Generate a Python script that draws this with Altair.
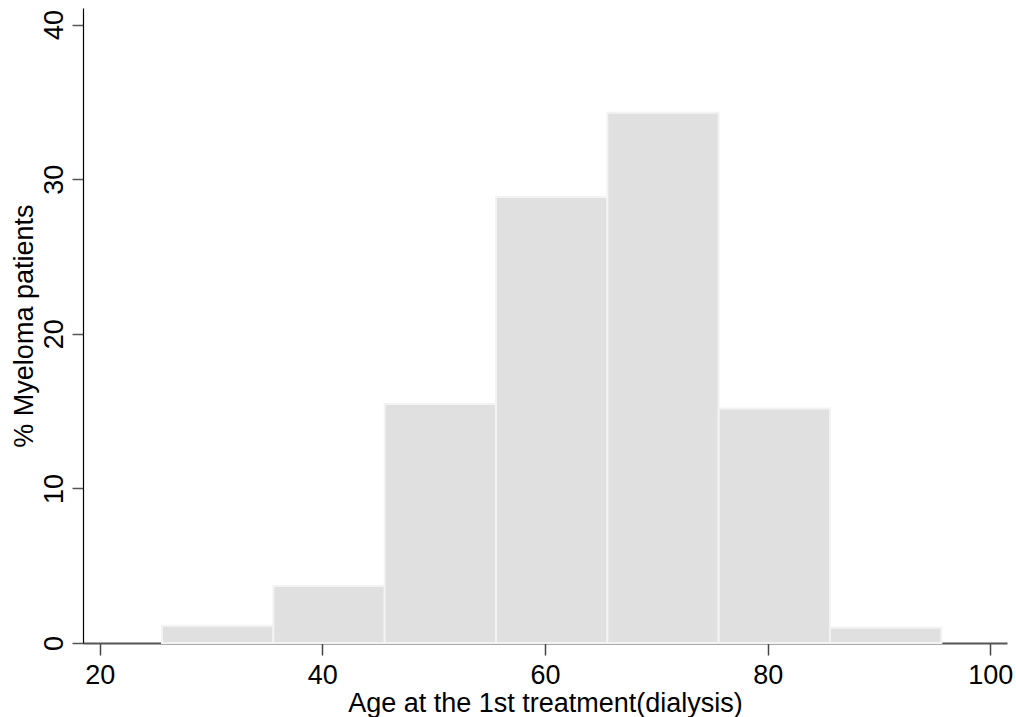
import altair as alt
import pandas as pd

# Histogram bins (age, years) and percentage of patients in each bin
bin_left = [25.6, 35.6, 45.6, 55.6, 65.6, 75.6, 85.6]
bin_right = [35.6, 45.6, 55.6, 65.6, 75.6, 85.6, 95.6]
percent = [1.12, 3.68, 15.45, 28.85, 34.3, 15.17, 0.99]

x_ticks = [20, 40, 60, 80, 100]
y_ticks = [0, 10, 20, 30, 40]

df = pd.DataFrame({"left": bin_left, "right": bin_right, "pct": percent})

FONT = "Liberation Sans"

chart = alt.Chart(df).mark_rect(
    fill="#e0e0e0", stroke="#f3f3f3", strokeWidth=2
).encode(
    x=alt.X(
        "left:Q",
        scale=alt.Scale(domain=[18.5, 101.5], nice=False, zero=False),
        axis=alt.Axis(
            values=x_ticks,
            title="Age at the 1st treatment(dialysis)",
            grid=False,
            domainColor="#555555",
            domainWidth=2,
            tickColor="#444444",
            tickWidth=1.5,
            tickSize=12,
            labelFont=FONT,
            labelFontSize=27,
            labelColor="#000000",
            labelPadding=7,
            titleFont=FONT,
            titleFontSize=27,
            titleFontWeight="normal",
            titleColor="#000000",
            titlePadding=2,
        ),
    ),
    x2="right",
    y=alt.Y(
        "pct:Q",
        scale=alt.Scale(domain=[0, 41.07], nice=False),
        axis=alt.Axis(
            values=y_ticks,
            title="% Myeloma patients",
            grid=False,
            domainColor="#000000",
            domainWidth=1.2,
            tickColor="#555555",
            tickWidth=1.5,
            tickSize=11,
            labelAngle=270,
            labelAlign="center",
            labelBaseline="alphabetic",
            labelPadding=10,
            labelFont=FONT,
            labelFontSize=27,
            labelColor="#000000",
            titleFont=FONT,
            titleFontSize=27,
            titleFontWeight="normal",
            titleColor="#000000",
            titleAngle=270,
            titleBaseline="alphabetic",
            titleAlign="center",
            titleX=-51,
            titleY=317.6,
        ),
    ),
    y2=alt.datum(0),
).properties(
    width=924,
    height=635,
    padding={"left": 83, "top": 8, "right": 9, "bottom": 74},
    autosize=alt.AutoSizeParams(type="none"),
    background="white",
).configure_view(stroke=None)

chart.save("out.html", embed_options={"renderer": "svg", "actions": False})
